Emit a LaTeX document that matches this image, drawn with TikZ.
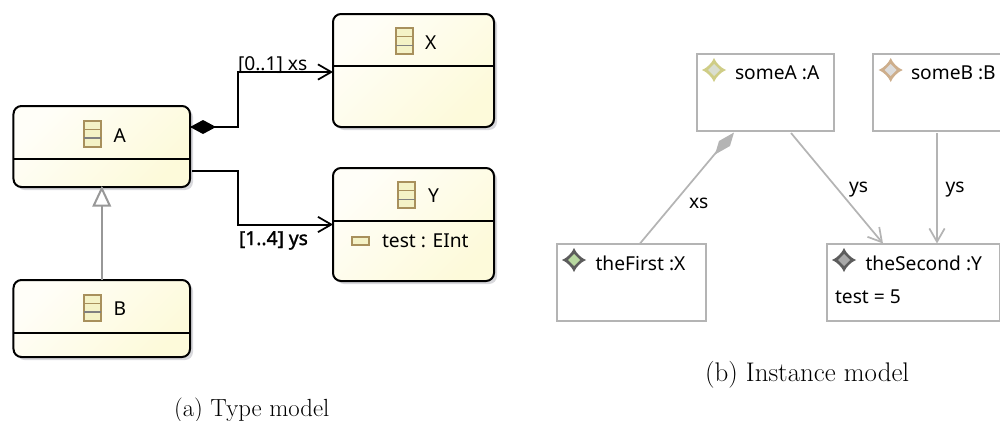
\documentclass[tikz,border=0pt]{standalone}
\usepackage{fontspec}
\setsansfont{Noto Sans}
\newfontfamily\fakeboldsans[FakeBold=1.6]{Noto Sans}
\usetikzlibrary{calc,arrows.meta}
\definecolor{shadowgray}{HTML}{D8D8DC}
\definecolor{linegray}{HTML}{B4B4B4}
\definecolor{gengray}{HTML}{989898}
\definecolor{iconbrown}{HTML}{A8905C}
\definecolor{iconfill}{HTML}{F4F2C6}
\definecolor{boxstart}{HTML}{FFFEF8}
\definecolor{boxend}{HTML}{FDFADA}
\definecolor{aout}{HTML}{CFCD86}
\definecolor{ain}{HTML}{DADED0}
\definecolor{bout}{HTML}{CDAE8C}
\definecolor{bin}{HTML}{DCDCDC}
\definecolor{xout}{HTML}{5C5C5C}
\definecolor{xin}{HTML}{B8D8A0}
\definecolor{yout}{HTML}{5C5C5C}
\definecolor{yin}{HTML}{A8A8A8}
\tikzset{
  x=0.75pt,y=-0.75pt,
  every node/.style={inner sep=0pt,outer sep=0pt},
  cb/.style={rectangle,rounded corners=6pt,draw=black,line width=1.5pt},
  typelabel/.style={font=\sffamily\fontsize{14.4}{16}\selectfont,text=black,anchor=base west},
  boldlabel/.style={font=\fakeboldsans\fontsize{14.4}{16}\selectfont,text=black,anchor=base west},
  captiona/.style={font=\rmfamily\fontsize{18.6}{21}\selectfont,text=black,anchor=base west},
  captionb/.style={font=\rmfamily\fontsize{20.2}{23}\selectfont,text=black,anchor=base west},
  inst/.style={rectangle,draw=linegray,line width=1.5pt,fill=white,anchor=north west},
  assoc/.style={draw=black,line width=1.5pt,line join=miter},
  divider/.style={draw=black,line width=1.5pt},
  instline/.style={draw=linegray,line width=1.3pt},
  opentip/.style={-{Straight Barb[length=10pt,width=11.5pt,line width=1.3pt]}}
}
\newcommand{\classshape}[4]{%
  \fill[shadowgray,rounded corners=6pt] (#1+3,#2+3) rectangle (#3+3,#4+3);
  \shade[rounded corners=6pt,top color=boxstart,bottom color=boxend,shading angle=45]
     (#1,#2) rectangle (#3,#4);
}
\newcommand{\classicon}[2]{%
  \begin{scope}[shift={(#1,#2)}]
    \fill[iconfill] (-8.5,-13) rectangle (8.5,13);
    \draw[iconbrown,line width=1.5pt] (-8.5,-13) rectangle (8.5,13);
    \draw[iconbrown,line width=1pt] (-8.5,-4.3) -- (8.5,-4.3);
    \draw[gray,line width=1.1pt] (-8.5,4.3) -- (8.5,4.3);
  \end{scope}}
\newcommand{\insticon}[4]{%
  \begin{scope}[shift={(#1,#2)}]
    \fill[#3] (0,-12) .. controls (2,-7) and (7,-2) .. (12,0) .. controls (7,2) and (2,7) .. (0,12)
      .. controls (-2,7) and (-7,2) .. (-12,0) .. controls (-7,-2) and (-2,-7) .. (0,-12) -- cycle;
    \fill[#3] (0,-9) -- (9,0) -- (0,9) -- (-9,0) -- cycle;
    \fill[#4] (0,-6) -- (6,0) -- (0,6) -- (-6,0) -- cycle;
  \end{scope}}
\begin{document}
\begin{tikzpicture}
\useasboundingbox (0,0) rectangle (1000,421);
\clip (0,0) rectangle (1000,421);
% class boxes
\classshape{13.5}{106}{190}{187}
\classshape{333}{14}{494}{127}
\classshape{333}{168}{494}{281}
\classshape{13.5}{280}{190}{357}
\node[cb,minimum width=132.4pt,minimum height=60.75pt] (A) at (101.75,146.5) {};
\node[cb,minimum width=120.75pt,minimum height=84.75pt] (X) at (413.5,70.5) {};
\node[cb,minimum width=120.75pt,minimum height=84.75pt] (Y) at (413.5,224.5) {};
\node[cb,minimum width=132.4pt,minimum height=57.75pt] (B) at (101.75,318.5) {};
\draw[divider] ($(A.north west)+(0,52.5)$) coordinate (Al) -- (Al -| A.east);
\draw[divider] ($(X.north west)+(0,52)$) coordinate (Xl) -- (Xl -| X.east);
\draw[divider] ($(Y.north west)+(0,52.5)$) coordinate (Yl) -- (Yl -| Y.east);
\draw[divider] ($(B.north west)+(0,52.5)$) coordinate (Bl) -- (Bl -| B.east);
\classicon{92.5}{133.5}
\classicon{404.5}{41}
\classicon{406}{195}
\classicon{92.5}{307.5}
\node[typelabel] (tA) at (113.5,142) {A};
\node[typelabel] (tX) at (425,49) {X};
\node[typelabel] (tY) at (428,202) {Y};
\node[typelabel] (tB) at (113.5,315) {B};
% attribute
\fill[iconfill] (352,237) rectangle (369,245);
\draw[iconbrown,line width=1.5pt] (352,237) rectangle (369,245);
\node[typelabel] (tt) at (382,247) {test : EInt};
% connectors
\draw[assoc,opentip] ($(A.north east)+(0,21)$) -- ++(48,0) |- ($(X.west)+(0,1.5)$);
\fill[black] ($(A.north east)+(0,21)$) -- ++(13,-7) -- ++(13,7) -- ++(-13,7) -- cycle;
\draw[assoc,opentip] ($(A.north east)+(2,65)$) -- ++(46,0) |- (Y.west);
\draw[draw=gengray,line width=1.5pt] (B.north) -- (A.south);
\draw[draw=gengray,line width=1.5pt,fill=white,line join=miter] ($(A.south)+(0,1.5)$) -- ++(8,17) -- ++(-16,0) -- cycle;
\node[typelabel] (l1) at (238,70) {[0..1] xs};
\node[boldlabel] (l2) at (239,245) {[1..4] ys};
% instance boxes
\node[inst,minimum width=102.5pt,minimum height=57.75pt] (sA) at (697,54) {};
\node[inst,minimum width=130pt,minimum height=57.75pt] (sB) at (873,54) {};
\node[inst,minimum width=112pt,minimum height=58pt] (tF) at (557,243.5) {};
\node[inst,minimum width=130pt,minimum height=58pt] (tS) at (827,243.5) {};
\insticon{714}{70}{aout}{ain}
\insticon{890.7}{70}{bout}{bin}
\insticon{574}{260}{xout}{xin}
\insticon{844}{260}{yout}{yin}
\node[typelabel] (n1) at (735,79) {someA :A};
\node[typelabel] (n2) at (911,79) {someB :B};
\node[typelabel] (n3) at (595.5,270) {theFirst :X};
\node[typelabel] (n4) at (865.5,270) {theSecond :Y};
\node[typelabel] (n5) at (835,303) {test = 5};
% instance connectors
\draw[instline] ($(tF.north west)+(83,0)$) -- ($(sA.south west)+(27,12)$);
\fill[linegray] ($(sA.south west)+(37,1.5)$) -- ($(sA.south west)+(33,15)$) -- ($(sA.south west)+(18,23.5)$) -- ($(sA.south west)+(22,10)$) -- cycle;
\draw[instline,opentip] ($(sA.south west)+(94,2)$) -- ($(tS.north west)+(56,0)$);
\draw[instline,opentip] ($(sB.south west)+(64,2)$) -- ($(tS.north west)+(110,0)$);
\node[typelabel] (e1) at (689,208) {xs};
\node[typelabel] (e2) at (849,192) {ys};
\node[typelabel] (e3) at (945.5,192) {ys};
% captions
\node[captiona] (c1) at (174,416) {(a) Type model};
\node[captionb] (c2) at (705,381) {(b) Instance model};
\end{tikzpicture}
\end{document}
